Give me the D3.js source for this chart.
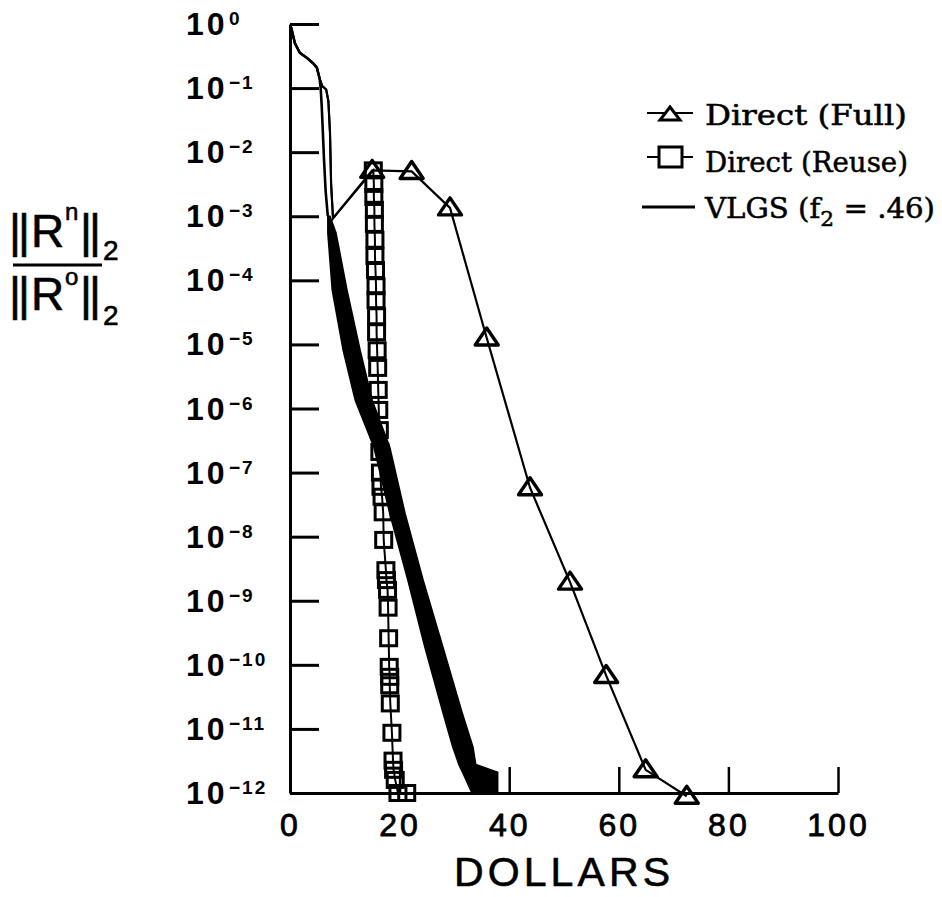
<!DOCTYPE html>
<html>
<head>
<meta charset="utf-8">
<script src="https://cdn.jsdelivr.net/npm/d3@7"></script>
<style>
  html, body { margin: 0; padding: 0; background: #fff; }
  svg { display: block; }
</style>
</head>
<body>
<svg id="chart" width="942" height="897"></svg>
<script>
// Residual reduction ||R^n||/||R^0|| against computing cost (dollars)

const xTickValues = [0, 20, 40, 60, 80, 100];
const yTickValues = [1e0, 1e-1, 1e-2, 1e-3, 1e-4, 1e-5, 1e-6, 1e-7, 1e-8, 1e-9, 1e-10, 1e-11, 1e-12];
const yTickExponents = ["0", "−1", "−2", "−3", "−4", "−5", "−6", "−7", "−8", "−9", "−10", "−11", "−12"];

// common start-up phase of all three solvers
const startCost  = [0.2, 0.9, 1.8, 3.1, 4.2, 4.9, 5.4];
const startResid = [0.89, 0.50, 0.355, 0.295, 0.245, 0.209, 0.141];

// VLGS early descent
const vlgsCost  = [5.6, 5.8, 6.0, 6.2, 6.5, 6.9];
const vlgsResid = [0.1, 0.05, 0.02, 7.9e-3, 2.5e-3, 1.0e-3];

// VLGS dense iteration band: residual level, lowest and highest cost at that level
const bandResid    = [1.0e-3, 5.5e-4, 7.1e-5, 8.1e-6, 1.35e-6, 2.5e-7, 2.3e-8, 2.1e-9, 1.9e-10, 1.8e-11, 5.2e-12, 2.8e-12, 2.1e-12, 1.0e-12];
const bandCostLow  = [6.9, 6.9, 7.7, 9.7, 11.9, 15.3, 18.2, 21.5, 24.6, 27.9, 29.7, 30.8, 31.5, 33.2];
const bandCostHigh = [7.3, 8.4, 10.4, 12.8, 15.0, 18.2, 21.0, 24.3, 27.9, 31.4, 33.4, 33.9, 37.9, 37.9];

// direct solvers, shared lead-in before the first factorisation
const directLeadCost  = [5.9, 6.6, 7.0, 7.3, 7.5, 7.85];
const directLeadResid = [0.107, 0.095, 0.063, 0.02, 3.2e-3, 9.3e-4];

// Direct (Full)
const fullCost  = [15.0, 22.2, 29.2, 35.9, 43.8, 51.1, 57.7, 64.9, 72.4];
const fullResid = [5.2e-3, 5.0e-3, 1.35e-3, 1.26e-5, 5.8e-8, 1.95e-9, 6.8e-11, 2.3e-12, 8.9e-13];

// Direct (Reuse)
const reuseCost = [15.2, 15.3, 15.3, 15.4, 15.4, 15.5, 15.5, 15.6, 15.7, 15.7, 15.8, 15.8, 15.9, 16.0, 16.1, 16.2, 16.3, 16.4,
                   16.5, 16.6, 16.8, 17.0, 17.1, 17.5, 17.6, 17.8, 17.9, 18.0, 18.1, 18.2, 18.2, 18.3, 18.6, 18.8, 18.9, 19.2, 19.7, 21.3];
const reuseResid = [5.2e-3, 3.2e-3, 2.0e-3, 1.26e-3, 7.6e-4, 4.3e-4, 2.4e-4, 1.45e-4, 8.1e-5, 4.9e-5, 2.75e-5, 1.55e-5, 8.1e-6, 4.3e-6, 1.95e-6, 9.5e-7, 4.6e-7, 2.1e-7,
                    1.0e-7, 6.0e-8, 4.2e-8, 2.4e-8, 8.9e-9, 3.0e-9, 2.1e-9, 1.48e-9, 7.8e-10, 2.6e-10, 9.3e-11, 6.5e-11, 4.8e-11, 2.5e-11, 8.7e-12, 3.2e-12, 2.3e-12, 1.6e-12, 1.0e-12, 1.0e-12];

const legendLabels = ["Direct (Full)", "Direct (Reuse)", "VLGS (f"];

const zip = (xs, ys) => xs.map((v, i) => ({ c: v, r: ys[i] }));

const svg = d3.select("#chart");
const x = d3.scaleLinear().domain([0, 100]).range([290, 838]);
const y = d3.scaleLog().domain([1e-12, 1]).range([793, 24]);

const sansFont = "'Liberation Sans', Arial, sans-serif";
const typeFont = "'DejaVu Serif', serif";

// ---- axes ----
const gx = svg.append("g")
  .attr("transform", `translate(0,${y(1e-12)})`)
  .call(d3.axisBottom(x).tickValues(xTickValues).tickSize(-26).tickSizeOuter(0).tickPadding(20).tickFormat(d3.format("d")));
gx.select(".domain").attr("stroke", "#000").attr("stroke-width", 3);
gx.selectAll(".tick line").attr("stroke", "#000").attr("stroke-width", 2.5);
gx.selectAll(".tick text")
  .attr("font-family", sansFont).attr("font-size", 32)
  .attr("stroke", "#000").attr("stroke-width", 0.8)
  .attr("letter-spacing", 3).attr("fill", "#000");

const gy = svg.append("g")
  .attr("transform", `translate(${x(0)},0)`)
  .call(d3.axisLeft(y).tickValues(yTickValues).tickSize(-29).tickSizeOuter(0).tickFormat(() => ""));
gy.select(".domain").attr("stroke", "#000").attr("stroke-width", 3);
gy.selectAll(".tick line").attr("stroke", "#000").attr("stroke-width", 3);

const yLabels = svg.append("g")
  .attr("font-family", sansFont).attr("font-weight", "bold").attr("fill", "#000");
yTickValues.forEach((v, i) => {
  const t = yLabels.append("text").attr("x", 186).attr("y", y(v) + 11);
  t.append("tspan").attr("font-size", 32).attr("letter-spacing", 3).text("10");
  t.append("tspan").attr("x", 229).attr("dy", -10).attr("font-size", 19).attr("letter-spacing", 2).text(yTickExponents[i]);
});

// x axis title
svg.append("text")
  .attr("x", 454).attr("y", 886)
  .attr("font-family", sansFont).attr("font-size", 41)
  .attr("textLength", 216).attr("lengthAdjust", "spacing")
  .attr("stroke", "#000").attr("stroke-width", 0.6)
  .attr("fill", "#000").text("DOLLARS");

// y axis title: ||R^n||_2 / ||R^o||_2
const yt = svg.append("g").attr("font-family", sansFont).attr("fill", "#000")
  .attr("stroke", "#000").attr("stroke-width", 0.6);
function normText(base, sup, supDy, subDy) {
  const t = yt.append("text").attr("x", 9).attr("y", base).attr("font-size", 46);
  t.append("tspan").attr("letter-spacing", -3).text("||");
  t.append("tspan").attr("x", 31).text("R");
  t.append("tspan").attr("x", 65).attr("dy", supDy).attr("font-size", 24).text(sup);
  t.append("tspan").attr("x", 80).attr("dy", -supDy).attr("letter-spacing", -3).text("||");
  t.append("tspan").attr("x", 103).attr("dy", subDy).attr("font-size", 28).text("2");
}
normText(247, "n", -27, 13);
yt.append("line").attr("x1", 13).attr("x2", 102).attr("y1", 265).attr("y2", 265)
  .attr("stroke", "#000").attr("stroke-width", 3);
normText(310, "o", -25, 15);

// ---- data ----
const line = d3.line().x(d => x(d.c)).y(d => y(d.r));
const plot = svg.append("g");

// VLGS band
const band = bandResid.map((r, i) => ({ r, lo: bandCostLow[i], hi: bandCostHigh[i] }));
plot.append("path")
  .datum(band)
  .attr("d", d3.area().y(d => y(d.r)).x0(d => x(d.lo)).x1(d => x(d.hi)))
  .attr("fill", "#000").attr("stroke", "#000").attr("stroke-width", 1.5);

const startPts = zip(startCost, startResid);
plot.append("path").datum(startPts.concat(zip(vlgsCost, vlgsResid)))
  .attr("d", line).attr("fill", "none").attr("stroke", "#000").attr("stroke-width", 2.6);

const leadPts = startPts.concat(zip(directLeadCost, directLeadResid));
plot.append("path").datum(leadPts.concat(zip(fullCost, fullResid)))
  .attr("d", line).attr("fill", "none").attr("stroke", "#000").attr("stroke-width", 2.2);
plot.append("path").datum(leadPts.concat(zip(reuseCost, reuseResid)))
  .attr("d", line).attr("fill", "none").attr("stroke", "#000").attr("stroke-width", 2);

const triPath = "M0,-10L11.5,7L-11.5,7Z";
plot.selectAll(".tri").data(zip(fullCost, fullResid)).join("path")
  .attr("class", "tri")
  .attr("transform", d => `translate(${x(d.c)},${y(d.r)})`)
  .attr("d", triPath).attr("fill", "none").attr("stroke", "#000").attr("stroke-width", 3.4)
  .attr("stroke-linejoin", "round");

plot.selectAll(".sq").data(zip(reuseCost, reuseResid)).join("rect")
  .attr("class", "sq")
  .attr("x", d => x(d.c) - 8).attr("y", d => y(d.r) - 7.5)
  .attr("width", 16).attr("height", 15)
  .attr("fill", "none").attr("stroke", "#000").attr("stroke-width", 3);

// ---- legend ----
const lg = svg.append("g").attr("font-family", typeFont).attr("fill", "#000")
  .attr("stroke", "#000").attr("stroke-width", 0.5);
lg.append("line").attr("x1", 647).attr("x2", 693).attr("y1", 113).attr("y2", 113).attr("stroke", "#000").attr("stroke-width", 2.2);
lg.append("path").attr("transform", "translate(670,114)").attr("d", "M0,-7L10,6L-10,6Z")
  .attr("fill", "#fff").attr("stroke", "#000").attr("stroke-width", 3);
lg.append("text").attr("x", 705).attr("y", 125).attr("font-size", 27)
  .attr("textLength", 202).attr("lengthAdjust", "spacingAndGlyphs").text(legendLabels[0]);

lg.append("line").attr("x1", 647).attr("x2", 693).attr("y1", 157).attr("y2", 157).attr("stroke", "#000").attr("stroke-width", 2.2);
lg.append("rect").attr("x", 659).attr("y", 147).attr("width", 23).attr("height", 20)
  .attr("fill", "#fff").attr("stroke", "#000").attr("stroke-width", 3);
lg.append("text").attr("x", 705).attr("y", 172).attr("font-size", 27)
  .attr("textLength", 203).attr("lengthAdjust", "spacingAndGlyphs").text(legendLabels[1]);

lg.append("line").attr("x1", 642).attr("x2", 695).attr("y1", 207).attr("y2", 207).attr("stroke", "#000").attr("stroke-width", 3);
const vt = lg.append("text").attr("x", 705).attr("y", 218).attr("font-size", 27)
  .attr("textLength", 230).attr("lengthAdjust", "spacingAndGlyphs");
vt.append("tspan").text(legendLabels[2]);
vt.append("tspan").attr("dy", 8).attr("font-size", 20).text("2");
vt.append("tspan").attr("dy", -8).text(" = .46)");
</script>
</body>
</html>
